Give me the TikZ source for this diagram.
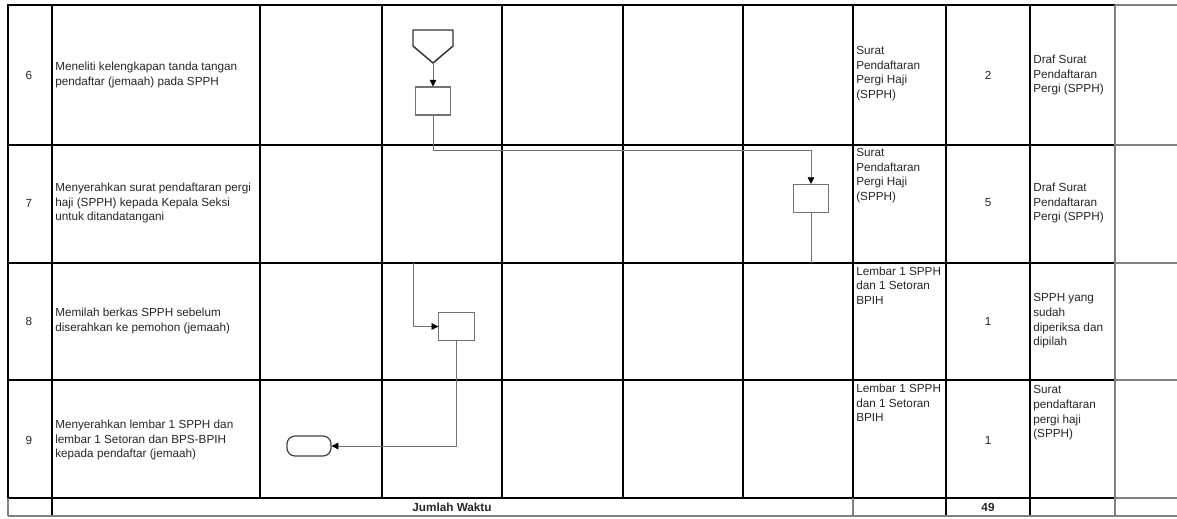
\documentclass[tikz,border=0pt]{standalone}
\usepackage{fontspec}
\setmainfont{Liberation Sans}
\usetikzlibrary{arrows.meta}
\begin{document}
\begin{tikzpicture}[x=0.75pt,y=-0.75pt,
  grid/.style={line width=1.5pt,black,line cap=rect},
  soft/.style={line width=0.9pt,black!50},
  txt/.style={font=\fontsize{8.8}{11}\selectfont,align=left,inner sep=0pt,anchor=west,text=black!85},
  num/.style={font=\fontsize{8.8}{11}\selectfont,inner sep=0pt,text=black!85},
  proc/.style={draw=black!55,line width=0.8pt,minimum width=26.5pt,minimum height=21pt,inner sep=0pt},
  term/.style={draw=black!75,line width=0.9pt,minimum width=33pt,minimum height=15pt,inner sep=0pt,rounded corners=6pt},
  flow/.style={draw=black!55,line width=0.75pt},
  arr/.style={flow,-{Triangle[length=5pt,width=5pt,color=black,fill=black,line width=0.4pt]}}
]
\useasboundingbox (0,0) rectangle (1177,518);
% grid
\foreach \x in {8,52,260,382,502,623,743,853,946,1030}
  \draw[grid] (\x,5) -- (\x,498);
\foreach \y in {5,145,263,380,498}
  \draw[grid] (8,\y) -- (1115,\y);
\draw[soft] (1115,5) -- (1115,516);
\foreach \y in {5,145,263,380,498}
  \draw[soft] (1115,\y) -- (1177,\y);
\draw[soft] (8,498) -- (8,516);
\draw[grid] (52,498) -- (52,516);
\draw[soft] (853,498) -- (853,516);
\draw[grid] (946,498) -- (946,516);
\draw[grid] (1030,498) -- (1030,516);
\draw[soft] (8,516) -- (1177,516);

% row numbers
\node[num] (n6) at (29,75) {6};
\node[num] (n7) at (29,203) {7};
\node[num] (n8) at (29,321) {8};
\node[num] (n9) at (29,440) {9};

% activities
\node[txt] (a6) at (55,75) {Meneliti kelengkapan tanda tangan\\pendaftar (jemaah) pada SPPH};
\node[txt] (a7) at (55,203) {Menyerahkan surat pendaftaran pergi\\haji (SPPH) kepada Kepala Seksi\\untuk ditandatangani};
\node[txt] (a8) at (55,321) {Memilah berkas SPPH sebelum\\diserahkan ke pemohon (jemaah)};
\node[txt] (a9) at (55,440) {Menyerahkan lembar 1 SPPH dan\\lembar 1 Setoran dan BPS-BPIH\\kepada pendaftar (jemaah)};

% kelengkapan
\node[txt] (k6) at (856,73.5) {Surat\\Pendaftaran\\Pergi Haji\\(SPPH)};
\node[txt] (k7) at (856,175.5) {Surat\\Pendaftaran\\Pergi Haji\\(SPPH)};
\node[txt] (k8) at (856,285.5) {Lembar 1 SPPH\\dan 1 Setoran\\BPIH};
\node[txt] (k9) at (856,403) {Lembar 1 SPPH\\dan 1 Setoran\\BPIH};

% waktu
\node[num] (w6) at (988,75) {2};
\node[num] (w7) at (988,203) {5};
\node[num] (w8) at (988,321) {1};
\node[num] (w9) at (988,440) {1};

% output
\node[txt] (o6) at (1033,75) {Draf Surat\\Pendaftaran\\Pergi (SPPH)};
\node[txt] (o7) at (1033,203) {Draf Surat\\Pendaftaran\\Pergi (SPPH)};
\node[txt] (o8) at (1033,321) {SPPH yang\\sudah\\diperiksa dan\\dipilah};
\node[txt] (o9) at (1033,413) {Surat\\pendaftaran\\pergi haji\\(SPPH)};

% total row
\node[num,font=\fontsize{8.8}{11}\selectfont\bfseries] (jw) at (452,507) {Jumlah Waktu};
\node[num,font=\fontsize{8.8}{11}\selectfont\bfseries] (tot) at (988,507) {49};

% flowchart
\draw[draw=black!80,line width=1.1pt,line join=round]
  (413,30) -- (453,30) -- (453,46) -- (433,63) -- (413,46) -- cycle;
\coordinate (off) at (433,63);
\node[proc] (b1) at (433,101) {};
\node[proc] (b2) at (811,198.5) {};
\node[proc] (b3) at (456.5,326.5) {};
\node[term] (end) at (309,446) {};
\coordinate (c1) at (811,263);
\coordinate (c2) at (413,263);

\draw[arr] (off) -- (b1.north);
\draw[arr] (b1.south) -- ++(0,35) -| (b2.north);
\draw[flow] (b2.south) -- (c1);
\draw[arr] (c2) |- (b3.west);
\draw[arr] (b3.south) |- (end.east);
\end{tikzpicture}
\end{document}
